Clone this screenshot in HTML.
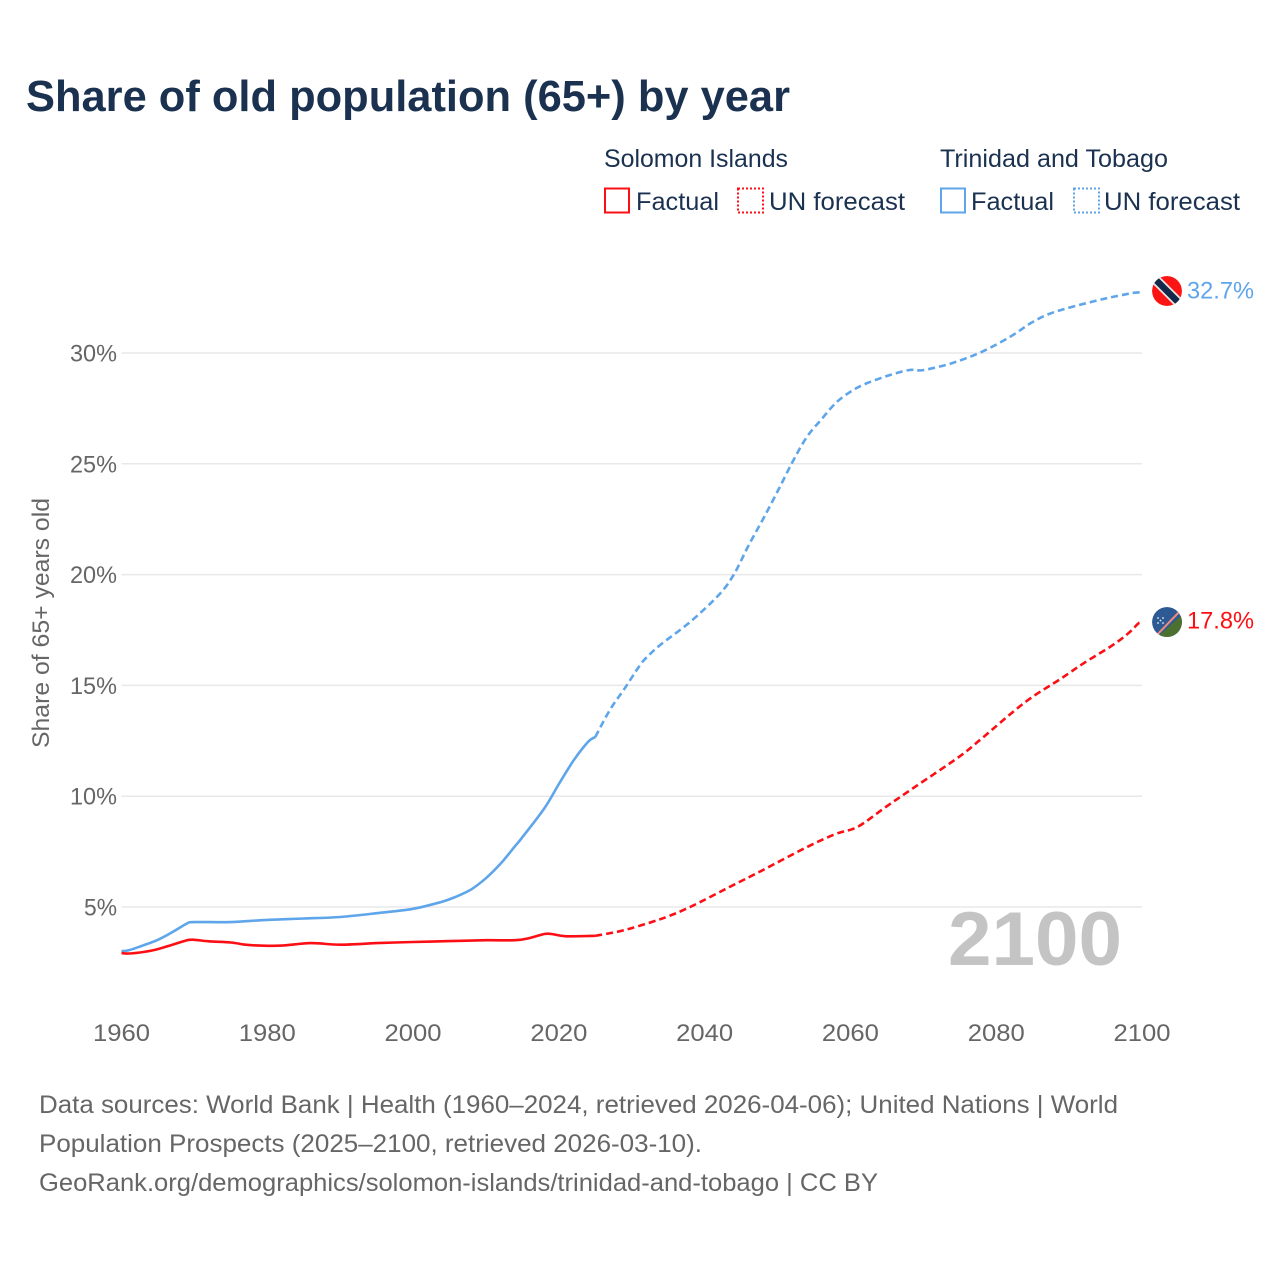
<!DOCTYPE html>
<html lang="en">
<head>
<meta charset="utf-8">
<title>Share of old population (65+) by year</title>
<style>
html,body{margin:0;padding:0;background:#fff;}
svg{display:block;font-family:"Liberation Sans",sans-serif;}
</style>
</head>
<body>
<svg id="chart" width="1280" height="1280" viewBox="0 0 1280 1280" xmlns="http://www.w3.org/2000/svg">
<defs>
<clipPath id="flag-clip-tt"><circle cx="1167" cy="291" r="15"/></clipPath>
<clipPath id="flag-clip-sb"><circle cx="1167" cy="622" r="15"/></clipPath>
</defs>
<text x="26" y="111" font-size="44" font-weight="700" fill="#1a3150" textLength="764" lengthAdjust="spacingAndGlyphs">Share of old population (65+) by year</text>

<g font-size="25" fill="#1a3150">
<text x="604" y="167" textLength="184" lengthAdjust="spacingAndGlyphs">Solomon Islands</text>
<rect x="605" y="188.500" width="24" height="24" fill="none" stroke="#fb0f14" stroke-width="2"/>
<text x="636" y="210" textLength="83" lengthAdjust="spacingAndGlyphs">Factual</text>
<rect x="738" y="188.500" width="25" height="24" fill="none" stroke="#fb0f14" stroke-width="2" stroke-dasharray="2 2"/>
<text x="769" y="210" textLength="136" lengthAdjust="spacingAndGlyphs">UN forecast</text>
<text x="940" y="167" textLength="228" lengthAdjust="spacingAndGlyphs">Trinidad and Tobago</text>
<rect x="941" y="188.500" width="24" height="24" fill="none" stroke="#5fa5ea" stroke-width="2"/>
<text x="971" y="210" textLength="83" lengthAdjust="spacingAndGlyphs">Factual</text>
<rect x="1074" y="188.500" width="25" height="24" fill="none" stroke="#5fa5ea" stroke-width="2" stroke-dasharray="2 2"/>
<text x="1104" y="210" textLength="136" lengthAdjust="spacingAndGlyphs">UN forecast</text>
</g>

<g id="grid"></g>
<g id="y-ticks"></g>
<g id="x-ticks"></g>

<text transform="translate(49,748) rotate(-90)" font-size="24" fill="#666" textLength="250" lengthAdjust="spacingAndGlyphs">Share of 65+ years old</text>

<text x="948" y="965" font-size="76" font-weight="700" fill="#c4c4c4" textLength="174" lengthAdjust="spacingAndGlyphs">2100</text>

<g id="series"></g>

<g clip-path="url(#flag-clip-tt)">
<circle cx="1167" cy="291" r="15" fill="#fb1414"/>
<line x1="1152" y1="276" x2="1182" y2="306" stroke="#e8e8e8" stroke-width="10"/>
<line x1="1152" y1="276" x2="1182" y2="306" stroke="#14294a" stroke-width="6.500"/>
</g>
<g clip-path="url(#flag-clip-sb)">
<circle cx="1167" cy="622" r="15" fill="#2e5a94"/>
<polygon points="1185,612 1185,640 1154,640" fill="#4c7030"/>
<line x1="1154" y1="638" x2="1182" y2="609" stroke="#ee8a80" stroke-width="2"/>
<circle cx="1158" cy="618" r="0.900" fill="#e8eef5"/>
<circle cx="1163" cy="618" r="0.900" fill="#e8eef5"/>
<circle cx="1158" cy="623" r="0.900" fill="#e8eef5"/>
<circle cx="1163" cy="623" r="0.900" fill="#e8eef5"/>
<circle cx="1160.500" cy="620.500" r="0.900" fill="#e8eef5"/>
</g>

<g id="end-labels"></g>

<g font-size="25" fill="#666">
<text x="39" y="1113" textLength="1079" lengthAdjust="spacingAndGlyphs">Data sources: World Bank | Health (1960–2024, retrieved 2026-04-06); United Nations | World</text>
<text x="39" y="1152" textLength="663" lengthAdjust="spacingAndGlyphs">Population Prospects (2025–2100, retrieved 2026-03-10).</text>
<text x="39" y="1191" textLength="839" lengthAdjust="spacingAndGlyphs">GeoRank.org/demographics/solomon-islands/trinidad-and-tobago | CC BY</text>
</g>
</svg>

<script>
const yTickValues = [5, 10, 15, 20, 25, 30];
const xTickValues = [1960, 1980, 2000, 2020, 2040, 2060, 2080, 2100];

const blueFactualYears = [1960, 1961, 1963, 1965, 1967, 1969, 1970, 1975, 1980, 1985, 1990, 1995, 2000, 2004, 2006, 2008, 2010, 2012, 2014, 2015, 2018, 2020, 2022, 2024, 2025];
const blueFactualValues = [3.01, 3.05, 3.27, 3.52, 3.87, 4.26, 4.32, 4.32, 4.42, 4.48, 4.55, 4.72, 4.92, 5.24, 5.48, 5.8, 6.3, 6.95, 7.75, 8.15, 9.45, 10.55, 11.6, 12.45, 12.67];
const blueForecastYears = [2025, 2027, 2029, 2031, 2032, 2034, 2038, 2042, 2044, 2046, 2048, 2050, 2052, 2054, 2056, 2058, 2060, 2062, 2065, 2068, 2070, 2074, 2078, 2082, 2085, 2088, 2093, 2096, 2099, 2100];
const blueForecastValues = [12.67, 13.89, 14.85, 15.85, 16.25, 16.85, 17.86, 19.1, 20.0, 21.3, 22.5, 23.75, 25.05, 26.2, 27.0, 27.75, 28.25, 28.6, 28.96, 29.23, 29.23, 29.55, 30.05, 30.75, 31.4, 31.85, 32.3, 32.53, 32.72, 32.72];

const redFactualYears = [1960, 1961, 1963, 1965, 1967, 1969, 1970, 1972, 1975, 1977, 1979, 1982, 1986, 1990, 1995, 2000, 2005, 2010, 2014, 2016, 2018, 2019, 2021, 2025];
const redFactualValues = [2.92, 2.9, 2.97, 3.1, 3.3, 3.5, 3.52, 3.45, 3.4, 3.3, 3.26, 3.26, 3.37, 3.3, 3.37, 3.42, 3.46, 3.5, 3.5, 3.6, 3.78, 3.78, 3.68, 3.7];
const redForecastYears = [2025, 2028, 2030, 2033, 2035, 2038, 2044, 2048, 2054, 2058, 2061, 2065, 2069, 2075, 2078, 2084, 2089, 2092, 2096, 2098.3, 2099.5, 2100];
const redForecastValues = [3.7, 3.88, 4.05, 4.35, 4.58, 5.0, 6.0, 6.67, 7.7, 8.3, 8.62, 9.55, 10.45, 11.8, 12.6, 14.25, 15.33, 16.0, 16.82, 17.4, 17.8, 17.8];

const endLabelTexts = ["32.7%", "17.8%"];

const SVG_NS = "http://www.w3.org/2000/svg";
const xScale = function (year) { return 121.5 + (year - 1960) * (1142 - 121.5) / 140; };
const yScale = function (value) { return 907 - (value - 5) * (907 - 353) / 25; };

function make(tag, parent, attrs, text) {
  const el = document.createElementNS(SVG_NS, tag);
  Object.keys(attrs).forEach(function (key) { el.setAttribute(key, attrs[key]); });
  if (text !== undefined) { el.textContent = text; }
  parent.appendChild(el);
  return el;
}

const gridGroup = document.getElementById("grid");
const yTickGroup = document.getElementById("y-ticks");
yTickValues.forEach(function (tick) {
  const line = make("line", gridGroup, { x1: 121.5, x2: 1142, y1: yScale(tick), y2: yScale(tick), stroke: "#e8e8e8", "stroke-width": 1.5 });
  
  
  const label = make("text", yTickGroup, { x: 117, y: yScale(tick) + 8.5, "font-size": 24, fill: "#666", "text-anchor": "end", textLength: tick < 10 ? 33 : 47, lengthAdjust: "spacingAndGlyphs" }, tick + "%");
  
  
});

const xTickGroup = document.getElementById("x-ticks");
xTickValues.forEach(function (tick) {
  const label = make("text", xTickGroup, { x: xScale(tick), y: 1041, "font-size": 24, fill: "#666", "text-anchor": "middle", textLength: 57, lengthAdjust: "spacingAndGlyphs" }, String(tick));
  
  
});

function linePath(years, values) {
  const pts = years.map(function (year, i) { return [xScale(year), yScale(values[i])]; });
  let d = "M" + pts[0][0].toFixed(1) + " " + pts[0][1].toFixed(1);
  for (let i = 0; i < pts.length - 1; i++) {
    const p0 = pts[Math.max(i - 1, 0)];
    const p1 = pts[i];
    const p2 = pts[i + 1];
    const p3 = pts[Math.min(i + 2, pts.length - 1)];
    const c1x = p1[0] + (p2[0] - p0[0]) / 6;
    const c1y = p1[1] + (p2[1] - p0[1]) / 6;
    const c2x = p2[0] - (p3[0] - p1[0]) / 6;
    const c2y = p2[1] - (p3[1] - p1[1]) / 6;
    d += " C" + c1x.toFixed(1) + " " + c1y.toFixed(1) + " " + c2x.toFixed(1) + " " + c2y.toFixed(1) + " " + p2[0].toFixed(1) + " " + p2[1].toFixed(1);
  }
  return d;
}

const seriesGroup = document.getElementById("series");
function drawLine(years, values, color, dashed) {
  const path = make("path", seriesGroup, { d: linePath(years, values), fill: "none", stroke: color, "stroke-width": 2.6, "stroke-linejoin": "round" });
  if (dashed) { path.setAttribute("stroke-dasharray", "7 4"); }
  return path;
}

const blueFactual = drawLine(blueFactualYears, blueFactualValues, "#5fa5ea", false);


const blueForecast = drawLine(blueForecastYears, blueForecastValues, "#5fa5ea", true);


const redFactual = drawLine(redFactualYears, redFactualValues, "#fb0f14", false);


const redForecast = drawLine(redForecastYears, redForecastValues, "#fb0f14", true);



const endGroup = document.getElementById("end-labels");
const blueEnd = make("text", endGroup, { x: 1187, y: yScale(blueForecastValues[blueForecastValues.length - 1]) + 6, "font-size": 24, fill: "#5fa5ea", textLength: 67, lengthAdjust: "spacingAndGlyphs" }, endLabelTexts[0]);


const redEnd = make("text", endGroup, { x: 1187, y: yScale(redForecastValues[redForecastValues.length - 1]) + 5, "font-size": 24, fill: "#fb0f14", textLength: 67, lengthAdjust: "spacingAndGlyphs" }, endLabelTexts[1]);


</script>
</body>
</html>
